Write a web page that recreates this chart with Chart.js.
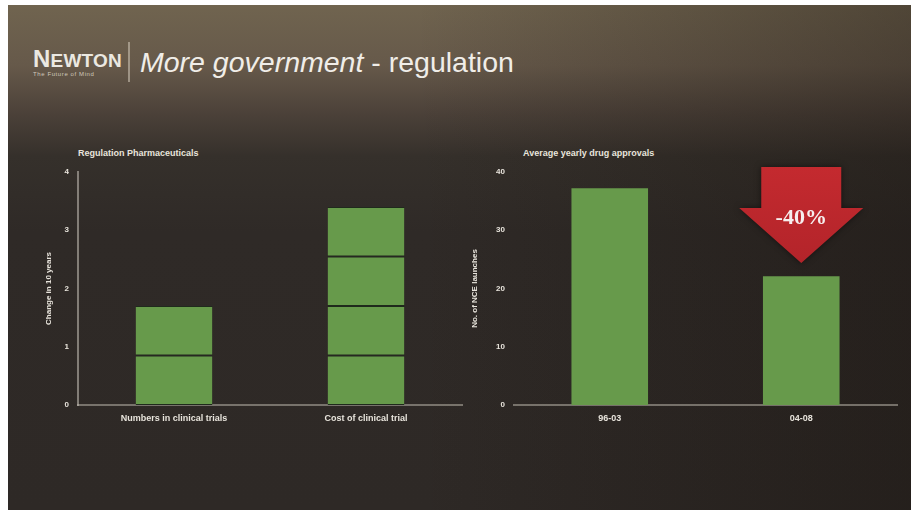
<!DOCTYPE html>
<html>
<head>
<meta charset="utf-8">
<script src="https://cdn.jsdelivr.net/npm/chart.js@4.4.1/dist/chart.umd.min.js"></script>
<style>
  html, body { margin: 0; padding: 0; background: #fff; }
  body { width: 919px; height: 522px; position: relative; overflow: hidden; font-family: "Liberation Sans", Arial, sans-serif; }
  #slide {
    position: absolute; left: 8px; top: 5px; width: 903px; height: 505px;
    background:
      linear-gradient(90deg, rgba(0,0,0,0) 0%, rgba(0,0,0,0) 45%, rgba(20,14,10,0.35) 100%),
      linear-gradient(180deg, #70644f 0%, #66594a 12%, #4a4038 22%, #35302b 30%, #2f2a27 45%, #2e2926 100%);
  }
  #logo { position: absolute; left: 33px; top: 45px; color: #ebe8e1; font-family: "Liberation Sans", Arial, sans-serif; font-weight: bold; letter-spacing: 0.2px; }
  #logo .big { font-size: 24px; }
  #logo .small { font-size: 19px; }
  #tag { position: absolute; left: 33px; top: 71px; font-size: 6px; color: #cfc8bc; letter-spacing: 0.6px; }
  #sep { position: absolute; left: 128px; top: 42px; width: 2px; height: 40px; background: rgba(210,200,185,0.55); }
  #title { position: absolute; left: 140px; top: 46px; font-size: 28.5px; color: #f0ede8; white-space: nowrap; }
  #title i { font-style: italic; }
  .ctitle { position: absolute; top: 148px; font-size: 9px; font-weight: bold; color: #e8e4dc; white-space: nowrap; }
  canvas { position: absolute; }
</style>
</head>
<body>
<div id="slide"></div>
<div id="logo"><span class="big">N</span><span class="small">EWTON</span></div>
<div id="tag">The Future of Mind</div>
<div id="sep"></div>
<div id="title"><i>More government</i> - regulation</div>
<div class="ctitle" style="left:78px">Regulation Pharmaceuticals</div>
<div class="ctitle" style="left:523px">Average yearly drug approvals</div>
<canvas id="leftChart" width="435" height="300" style="left:30px; top:140px; width:435px; height:300px"></canvas>
<canvas id="rightChart" width="445" height="300" style="left:460px; top:140px; width:445px; height:300px"></canvas>
<script>
// left chart data - stacked blocks
var leftCategories = ["Numbers in clinical trials", "Cost of clinical trial"];
var leftBlock1 = [0.85, 0.85];
var leftBlock2 = [0.85, 0.85];
var leftBlock3 = [0, 0.85];
var leftBlock4 = [0, 0.85];
var leftTicks = [0, 1, 2, 3, 4];

// right chart data
var rightCategories = ["96-03", "04-08"];
var rightValues = [37.2, 22.1];
var rightTicks = [0, 10, 20, 30, 40];
var changeLabel = "-40%";

var green = '#679a4b';
var divider = '#1f2a1c';
var tickColor = '#e8e4dc';

function blockSet(d) {
    return {
        data: d,
        backgroundColor: green,
        borderColor: divider,
        borderWidth: { top: 1, bottom: 1, left: 0, right: 0 },
        borderSkipped: false,
        barPercentage: 0.8,
        categoryPercentage: 0.5
    };
}

function yScale(max, ticks, title, width) {
    return {
        min: 0, max: max,
        afterBuildTicks: function(s) { s.ticks = ticks.map(function(v) { return { value: v }; }); },
        afterFit: function(s) { s.width = width; },
        grid: { display: false, drawTicks: false },
        border: { display: true, color: 'rgba(200,195,185,0.55)', width: 2 },
        ticks: { color: tickColor, font: { size: 8, weight: 'bold' }, padding: 9 },
        title: { display: true, text: title, color: tickColor, font: { size: 8, weight: 'bold' }, padding: 0 }
    };
}

function xScale() {
    return {
        afterFit: function(s) { s.height = 35; },
        grid: { display: false, drawTicks: false },
        border: { display: true, color: 'rgba(170,165,155,0.6)', width: 2 },
        ticks: { color: tickColor, font: { size: 9, weight: 'bold' }, padding: 8 }
    };
}

// left chart
new Chart(document.getElementById("leftChart"), {
    type: 'bar',
    data: {
        labels: leftCategories,
        datasets: [blockSet(leftBlock1), blockSet(leftBlock2), blockSet(leftBlock3), blockSet(leftBlock4)]
    },
    options: {
        responsive: false,
        animation: false,
        layout: { padding: { top: 32, right: 3, bottom: 0, left: 14 } },
        plugins: { legend: { display: false }, tooltip: { enabled: false } },
        scales: {
            x: Object.assign(xScale(), { stacked: true }),
            y: Object.assign(yScale(4, leftTicks, "Change in 10 years", 34), { stacked: true })
        }
    }
});

// red arrow with the change label, anchored on the second bar
var arrowPlugin = {
    id: 'arrow',
    afterDatasetsDraw: function(chart) {
        var ctx = chart.ctx;
        var cx = chart.scales.x.getPixelForValue(1);
        var top = chart.chartArea.top - 5;
        ctx.save();
        ctx.shadowColor = 'rgba(0,0,0,0.5)';
        ctx.shadowBlur = 6;
        var grad = ctx.createLinearGradient(0, top, 0, top + 96);
        grad.addColorStop(0, '#c42a2f');
        grad.addColorStop(1, '#b3242a');
        ctx.fillStyle = grad;
        ctx.beginPath();
        ctx.moveTo(cx - 40, top);
        ctx.lineTo(cx + 40, top);
        ctx.lineTo(cx + 40, top + 41);
        ctx.lineTo(cx + 62, top + 41);
        ctx.lineTo(cx, top + 96);
        ctx.lineTo(cx - 62, top + 41);
        ctx.lineTo(cx - 40, top + 41);
        ctx.closePath();
        ctx.fill();
        ctx.restore();
        ctx.save();
        ctx.fillStyle = '#f6eeee';
        ctx.font = 'bold 22px "Liberation Serif", "DejaVu Serif", serif';
        ctx.textAlign = 'center';
        ctx.textBaseline = 'middle';
        ctx.fillText(changeLabel, cx, top + 51);
        ctx.restore();
    }
};

// right chart
new Chart(document.getElementById("rightChart"), {
    type: 'bar',
    data: {
        labels: rightCategories,
        datasets: [{
            data: rightValues,
            backgroundColor: green,
            borderWidth: 0,
            barPercentage: 0.8,
            categoryPercentage: 0.5
        }]
    },
    options: {
        responsive: false,
        animation: false,
        layout: { padding: { top: 32, right: 8, bottom: 0, left: 10 } },
        plugins: { legend: { display: false }, tooltip: { enabled: false } },
        scales: {
            x: xScale(),
            y: Object.assign(yScale(40, rightTicks, "No. of NCE launches", 44), { border: { display: false } })
        }
    },
    plugins: [arrowPlugin]
});
</script>
</body>
</html>
